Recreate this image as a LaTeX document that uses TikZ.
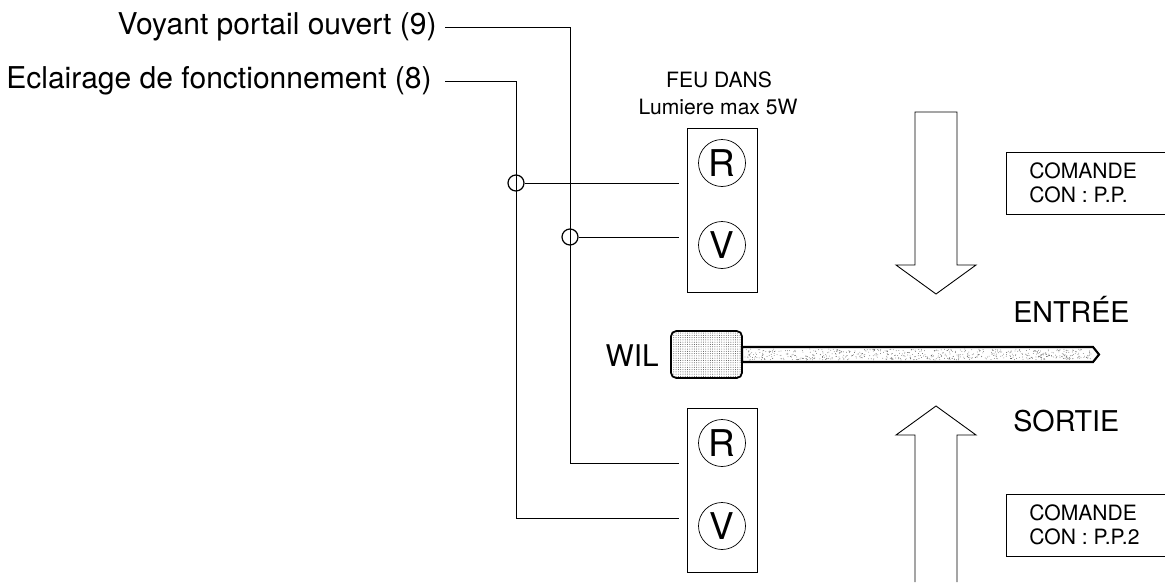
\documentclass[tikz,border=0pt]{standalone}
\usepackage{fontspec}
\setmainfont{TeX Gyre Heros}
\usetikzlibrary{patterns.meta}
\tikzset{
	wire/.style={line width=0.5pt},
	panel/.style={draw,line width=0.5pt,minimum width=1.4cm,minimum height=3.28cm,inner sep=0pt},
	lamp/.style={draw,circle,line width=0.4pt,minimum size=0.94cm,inner sep=0pt,font=\fontsize{21}{21}\selectfont},
	hop/.style={draw,circle,line width=0.7pt,minimum size=0.32cm,inner sep=0pt},
	biglabel/.style={inner sep=0pt,font=\fontsize{17.1}{20}\selectfont},
	sidelabel/.style={inner sep=0pt,anchor=west,font=\fontsize{16.3}{20}\selectfont},
	smalllabel/.style={inner sep=0pt,font=\fontsize{12}{14}\selectfont},
	cmdbox/.style={draw,line width=0.5pt,anchor=north west,minimum width=3.3cm,minimum height=1.24cm,inner sep=0pt}
}

\begin{document}
\begin{tikzpicture}[x=0.02cm,y=-0.02cm]
	\useasboundingbox (0,0) rectangle (1165,582);
	\clip (0,0) rectangle (1165,582);
	%%%%% LABELS %%%%%
	\node[biglabel,anchor=east] (lblNine) at (437,27) {Voyant portail ouvert (9)};
	\node[biglabel,anchor=east] (lblEight) at (432,81) {Eclairage de fonctionnement (8)};
	\node[smalllabel] (feuTitle) at (719,80) {FEU DANS};
	\node[smalllabel] (feuPower) at (718,107) {Lumiere max 5W};
	\node[sidelabel] (lblEntree) at (1013,309) {ENTRÉE};
	\node[sidelabel] (lblSortie) at (1013,421) {SORTIE};
	\node[sidelabel,anchor=east,font=\fontsize{17}{20}\selectfont] (lblWil) at (659,356) {WIL};

	%%%%% PANELS %%%%%
	\node[panel] (panelTop) at (722,210) {};
	\node[lamp] (lampRtop) at (722,163) {R};
	\node[lamp] (lampVtop) at (722,245) {V};
	\node[panel] (panelBot) at (722,490) {};
	\node[lamp] (lampRbot) at (722,443) {R};
	\node[lamp] (lampVbot) at (722,526) {V};

	%%%%% WIRES %%%%%
	\node[hop] (hopR) at (516,183) {};
	\node[hop] (hopV) at (570,237) {};
	\coordinate (stubR) at (679,183);
	\coordinate (stubV) at (679,237);
	\coordinate (stubNine) at (445,27);
	\coordinate (stubEight) at (445,81.5);
	\coordinate (turnNine) at (570,27);
	\coordinate (turnEight) at (516,81.5);
	\coordinate (endNine) at (679,463);
	\coordinate (endEight) at (679,518);
	\draw[wire] (hopR) -- (stubR);
	\draw[wire] (hopV) -- (stubV);
	\draw[wire] (stubNine) -- (turnNine) |- (endNine);
	\draw[wire] (stubEight) -- (turnEight) |- (endEight);

	%%%%% ROD %%%%%
	\draw[line width=1.2pt,fill=white] (742,347) -- (1093,347) -- (1099,354.5) -- (1093,362) -- (742,362) -- cycle;
	\pgfmathsetseed{41}
	\foreach \i in {1,...,650}
		\fill[black!70] ({745+rnd*346},{349+rnd*11}) circle (0.22pt);
	\draw[line width=1pt,rounded corners=3pt,pattern={Dots[distance=1.3pt,radius=0.27pt]},pattern color=black!70] (671,331) rectangle (742,378);

	%%%%% ARROWS %%%%%
	\draw[wire,fill=white] (915,112) -- (957,112) -- (957,265) -- (976,265) -- (936,294) -- (896,265) -- (915,265) -- cycle;
	\draw[wire] (915,582) -- (915,435) -- (896,435) -- (936,406) -- (976,435) -- (957,435) -- (957,582);

	%%%%% COMMAND BOXES %%%%%
	\node[cmdbox] (cmdTop) at (1006,152) {};
	\node[smalllabel,anchor=west,align=left] (cmdTopText) at (1029,182.5) {COMANDE\\[-0.5pt]CON : P.P.};
	\node[cmdbox] (cmdBot) at (1006,494) {};
	\node[smalllabel,anchor=west,align=left] (cmdBotText) at (1029,525) {COMANDE\\[-0.5pt]CON : P.P.2};
\end{tikzpicture}
\end{document}
